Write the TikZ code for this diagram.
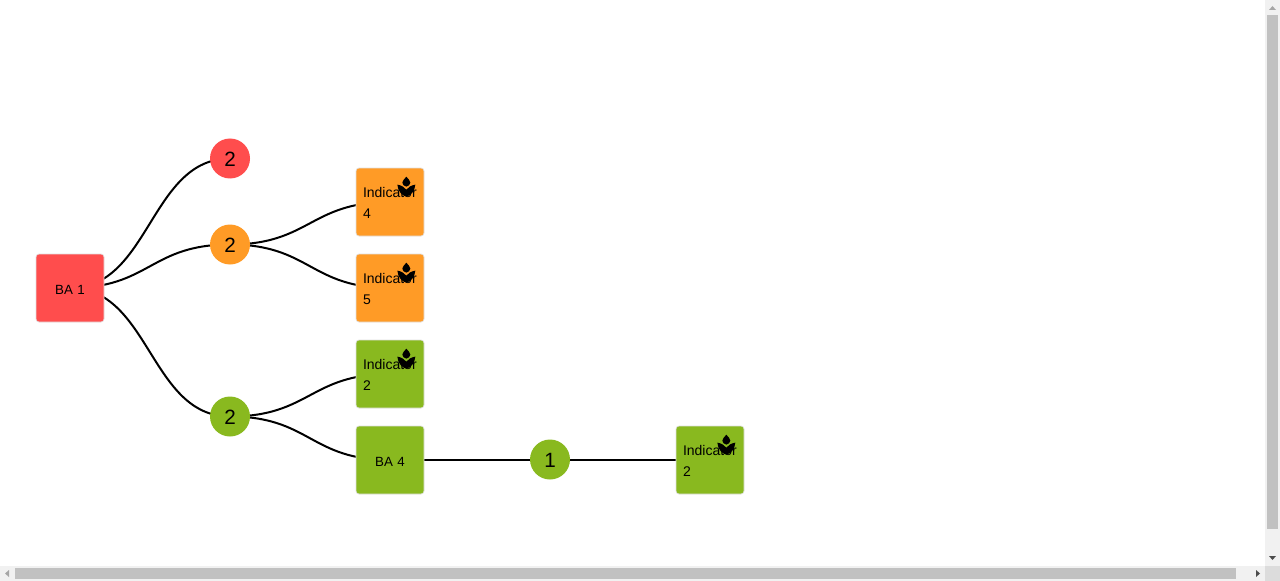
\documentclass[tikz,border=0pt]{standalone}
\usepackage{fontspec}
\setmainfont{Liberation Sans}
\usetikzlibrary{backgrounds}
\definecolor{myred}{HTML}{FF4D4D}
\definecolor{myorange}{HTML}{FF9B26}
\definecolor{mygreen}{HTML}{89B91F}
\definecolor{mytrack}{HTML}{F1F1F1}
\definecolor{mythumb}{HTML}{C1C1C1}
\definecolor{mycorner}{HTML}{DCDCDC}
\tikzset{
  box/.style={rectangle, rounded corners=2.25pt, draw=black!12, line width=0.5pt, minimum size=51pt, inner sep=0pt, text width=40.5pt, align=left, text depth=14.25pt, font=\fontsize{10.5}{15.75}\selectfont},
  label box/.style={box, align=center, text height=10.2pt, text depth=0pt, font=\fontsize{10}{15}\selectfont},
  count/.style={circle, minimum size=30pt, inner sep=0pt, text height=12.6pt, text depth=0pt, font=\fontsize{15.5}{18}\selectfont},
  link/.style={line width=1.5pt, line cap=round},
  spa/.pic={
    \fill (0,-10) .. controls (2,-7.5) and (4,-6) .. (4,-4) .. controls (4,-2) and (2,-0.5) .. (0,0) .. controls (-2,-0.5) and (-4,-2) .. (-4,-4) .. controls (-4,-6) and (-2,-7.5) .. (0,-10) -- cycle;
    \fill (0,10) .. controls (-4,9) and (-8.5,5) .. (-9,-2) .. controls (-5,-1.5) and (-2,0.5) .. (0,3) .. controls (2,0.5) and (5,-1.5) .. (9,-2) .. controls (8.5,5) and (4,9) .. (0,10) -- cycle;
  }
}
\begin{document}
\begin{tikzpicture}[x=0.75pt,y=-0.75pt]
\useasboundingbox (0,0) rectangle (1280,581);
% nodes
\node[label box, fill=myred] (ba1) at (70,288) {BA 1};
\node[count, fill=myred] (red2) at (230,158.5) {2};
\node[count, fill=myorange] (orange2) at (230,244.5) {2};
\node[count, fill=mygreen] (green2) at (230,416.5) {2};
\node[count, fill=mygreen] (green1) at (550,459.5) {1};
\node[box, fill=myorange] (ind4) at (390,202) {Indicator\\4};
\node[box, fill=myorange] (ind5) at (390,288) {Indicator\\5};
\node[box, fill=mygreen] (ind2) at (390,374) {Indicator\\2};
\node[label box, fill=mygreen] (ba4) at (390,460) {BA 4};
\node[box, fill=mygreen] (ind2b) at (710,460) {Indicator\\2};
% links run behind the nodes
\begin{pgfonlayer}{background}
\foreach \a/\b in {ba1/red2, ba1/orange2, ba1/green2, orange2/ind4, orange2/ind5, green2/ind2, green2/ba4}{
  \draw[link] (\a.center) .. controls +(80,0) and +(-80,0) .. (\b.center);
}
\draw[link] (ba4.east |- green1) -- (green1);
\draw[link] (green1) -- (green1 -| ind2b.west);
\end{pgfonlayer}
% icons
\foreach \a in {ind4, ind5, ind2, ind2b}{
  \pic at ([xshift=-13.5pt,yshift=-14.25pt]\a.north east) {spa};
}
% scrollbars
\fill[mytrack] (1265,0) rectangle (1280,566);
\fill[mytrack] (0,566) rectangle (1265,581);
\fill[mycorner] (1265,566) rectangle (1280,581);
\fill[mythumb] (1267,15) rectangle (1278,529);
\fill[mythumb] (15,568) rectangle (1236,579);
\fill[black!35] (1272.5,6) -- (1276,10) -- (1269,10) -- cycle;
\fill[black!70] (1272.5,560) -- (1276,556) -- (1269,556) -- cycle;
\fill[black!35] (5,573.5) -- (9,570) -- (9,577) -- cycle;
\fill[black!70] (1260,573.5) -- (1256,570) -- (1256,577) -- cycle;
\end{tikzpicture}
\end{document}
